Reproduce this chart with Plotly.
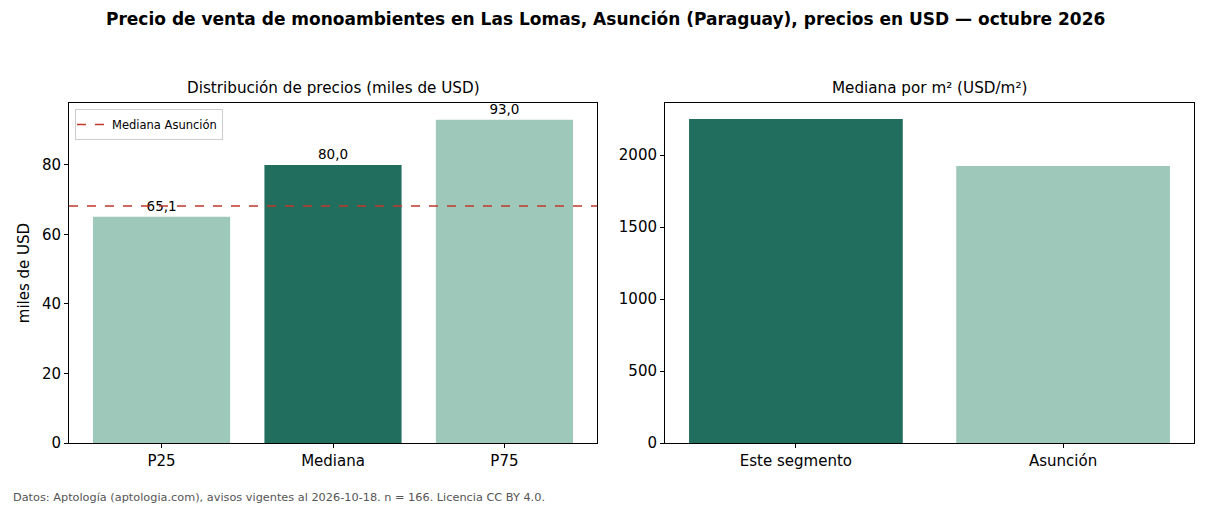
import plotly.graph_objects as go

# Data
cats_left = ["P25", "Mediana", "P75"]
vals_left = [65.1, 80.0, 93.0]
labels_left = ["65,1", "80,0", "93,0"]
median_asuncion = 68.2

cats_right = ["Este segmento", "Asunción"]
vals_right = [2250, 1924]

DARK = "#216e5f"
LIGHT = "#9ec8ba"
RED = "#c0392b"
colors_left = [LIGHT, DARK, LIGHT]
colors_right = [DARK, LIGHT]

W, H = 1210, 506
def px_x(x): return x / W
def px_y(y): return 1 - y / H

fig = go.Figure()

fig.add_trace(go.Bar(
    x=list(range(len(cats_left))), y=vals_left, marker_color=colors_left,
    marker_line_width=0, width=0.8, text=labels_left, textposition="outside",
    textfont=dict(size=13.5, color="black"), cliponaxis=False,
    xaxis="x", yaxis="y", showlegend=False, hoverinfo="skip"))

fig.add_trace(go.Scatter(
    x=[-0.54, 2.54], y=[median_asuncion, median_asuncion], mode="lines",
    line=dict(color=RED, width=1.5, dash="dash"), name="Mediana Asunción",
    xaxis="x", yaxis="y", showlegend=True))

fig.add_trace(go.Bar(
    x=list(range(len(cats_right))), y=vals_right, marker_color=colors_right,
    marker_line_width=0, width=0.8, xaxis="x2", yaxis="y2", showlegend=False,
    hoverinfo="skip"))

axis_common = dict(showline=True, linecolor="black", linewidth=1, mirror=True,
                   ticks="outside", ticklen=4, tickcolor="black", showgrid=False,
                   zeroline=False, tickfont=dict(size=15, color="black"),
                   automargin=False)

fig.update_layout(
    width=W, height=H, margin=dict(l=0, r=0, t=0, b=0),
    plot_bgcolor="white", paper_bgcolor="white",
    font=dict(family="DejaVu Sans", color="black"),
    bargap=0.2,
    xaxis=dict(domain=[px_x(69), px_x(597)], range=[-0.54, 2.54],
               tickmode="array", tickvals=list(range(3)), ticktext=cats_left,
               anchor="y", **axis_common),
    yaxis=dict(domain=[px_y(443), px_y(103)], range=[0, 97.8],
               tickvals=[0, 20, 40, 60, 80], anchor="x",
               title=dict(text="miles de USD", font=dict(size=15), standoff=8),
               **axis_common),
    xaxis2=dict(domain=[px_x(665), px_x(1194)], range=[-0.49, 1.49],
                tickmode="array", tickvals=list(range(2)), ticktext=cats_right,
                anchor="y2", **axis_common),
    yaxis2=dict(domain=[px_y(443), px_y(103)], range=[0, 2362],
                tickvals=[0, 500, 1000, 1500, 2000], anchor="x2", **axis_common),
    legend=dict(x=px_x(75), y=px_y(109), xanchor="left", yanchor="top",
                bgcolor="white", bordercolor="#cccccc", borderwidth=1,
                font=dict(size=11.5), itemwidth=30, tracegroupgap=0,
                indentation=-4),
    annotations=[
        dict(text="<b>Precio de venta de monoambientes en Las Lomas, Asunción (Paraguay), precios en USD — octubre 2026</b>",
             x=0.5, y=px_y(19), xref="paper", yref="paper", showarrow=False,
             font=dict(size=17, color="black"), xanchor="center", yanchor="middle"),
        dict(text="Distribución de precios (miles de USD)", x=px_x(333), y=px_y(88),
             xref="paper", yref="paper", showarrow=False, font=dict(size=15.2),
             xanchor="center", yanchor="middle"),
        dict(text="Mediana por m² (USD/m²)", x=px_x(929), y=px_y(88),
             xref="paper", yref="paper", showarrow=False, font=dict(size=15.2),
             xanchor="center", yanchor="middle"),
        dict(text="Datos: Aptología (aptologia.com), avisos vigentes al 2026-10-18. n = 166. Licencia CC BY 4.0.",
             x=px_x(11), y=px_y(497), xref="paper", yref="paper", showarrow=False,
             font=dict(size=11.3, color="#555555"), xanchor="left", yanchor="middle"),
    ],
)

fig.write_html("out.html")
